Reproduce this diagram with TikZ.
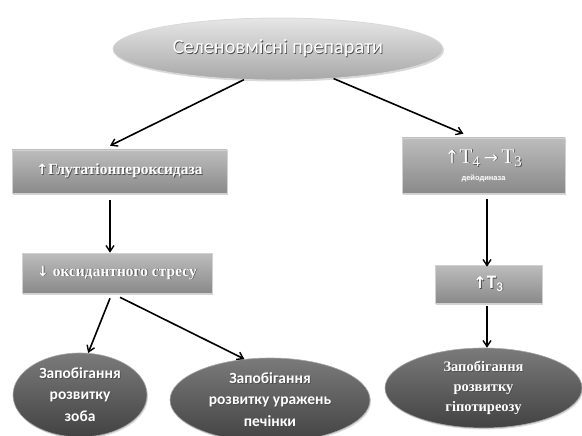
\documentclass[tikz,border=0pt]{standalone}
\usepackage{fontspec}
\setmainfont{Liberation Serif}
\newfontfamily\calib{Carlito}
\newfontfamily\lsans{Liberation Sans}
\newfontfamily\dvs{DejaVu Sans}
\usetikzlibrary{shapes.geometric,shadows,arrows.meta}
\newcommand\shd[1]{\leavevmode\rlap{\kern0.8pt\raisebox{-0.8pt}{\color{black!70}#1}}#1}
\begin{document}
\begin{tikzpicture}[x=1pt,y=-1pt,
  box/.style={rectangle, inner sep=0pt, top color=black!26, bottom color=black!46,
    draw=black!18, line width=0.6pt,
    drop shadow={opacity=0.35,shadow xshift=1.2pt,shadow yshift=-1.5pt},
    text=white, align=center},
  topell/.style={ellipse, inner sep=0pt, top color=black!10, bottom color=black!34,
    draw=white!85!black, line width=0.8pt,
    drop shadow={opacity=0.3,shadow xshift=1pt,shadow yshift=-1.5pt},
    text=white, align=center},
  dell/.style={ellipse, inner sep=0pt, top color=black!52, bottom color=black!74,
    draw=black!35, line width=0.6pt,
    drop shadow={opacity=0.3,shadow xshift=1pt,shadow yshift=-1.5pt},
    text=white, align=center},
  arr/.style={-{Straight Barb[length=6pt,width=8pt,line width=1.4pt]}, line width=1.6pt, black}
]
\useasboundingbox (0,0) rectangle (582,436);

\node[topell, minimum width=330pt, minimum height=62pt,
  font=\calib\fontsize{20.3}{24}\selectfont] (top) at (278,49)
  {\shd{Селеновмісні препарати}};

\node[box, minimum width=215pt, minimum height=43pt,
  font=\fontsize{15.5}{18}\selectfont\bfseries] (b1) at (119.5,171.5)
  {\shd{{\dvs\bfseries\fontsize{14}{16}\selectfont↑}Глутатіонпероксидаза}};
\node[box, minimum width=190pt, minimum height=40pt,
  font=\fontsize{15.5}{18}\selectfont\bfseries] (b2) at (117,273)
  {\shd{{\dvs\bfseries\fontsize{14}{16}\selectfont↓} оксидантного стресу}};

\node[box, minimum width=163pt, minimum height=55pt,
  font=\fontsize{21}{21}\selectfont] (r1) at (483.5,165.5)
  {\shd{{\dvs\fontsize{18}{18}\selectfont↑}T\textsubscript{4}\,{\dvs\fontsize{17}{17}\selectfont→}\,T\textsubscript{3}}\\[-4pt]
   {\lsans\bfseries\fontsize{7.5}{8}\selectfont дейодиназа}};
\node[box, minimum width=107pt, minimum height=38pt,
  font=\calib\bfseries\fontsize{19}{20}\selectfont] (r2) at (488.5,284)
  {\shd{{\dvs\bfseries\fontsize{16}{16}\selectfont↑}T\textsubscript{3}}};

\node[dell, minimum width=134pt, minimum height=84pt,
  font=\calib\bfseries\fontsize{15.5}{21.5}\selectfont] (e1) at (80,395)
  {\shd{Запобігання}\\\shd{розвитку}\\\shd{зоба}};
\node[dell, minimum width=200pt, minimum height=84pt,
  font=\calib\bfseries\fontsize{15.5}{21.5}\selectfont] (e2) at (270,400)
  {\shd{Запобігання}\\\shd{розвитку уражень}\\\shd{печінки}};
\node[dell, minimum width=197pt, minimum height=80pt,
  font=\bfseries\fontsize{14.5}{20}\selectfont] (e3) at (483.5,388)
  {\shd{Запобігання}\\\shd{розвитку}\\\shd{гіпотиреозу}};

\draw[arr] (top.222) -- ([xshift=-9.5pt,yshift=4pt]b1.north);
\draw[arr] (top.332) -- ([xshift=-20pt,yshift=4pt]r1.north);
\draw[arr] ([xshift=-9.5pt,yshift=-7pt]b1.south) -- ([xshift=-7pt]b2.north);
\draw[arr] ([xshift=-7pt,yshift=-5pt]b2.south) -- (e1.79);
\draw[arr] ([xshift=3pt,yshift=-4pt]b2.south) -- (e2.122);
\draw[arr] ([xshift=3.5pt,yshift=-6pt]r1.south) -- ([xshift=-1.5pt,yshift=-2pt]r2.north);
\draw[arr] ([xshift=-1.5pt,yshift=-3pt]r2.south) -- ([xshift=3.5pt]e3.north);
\end{tikzpicture}
\end{document}
